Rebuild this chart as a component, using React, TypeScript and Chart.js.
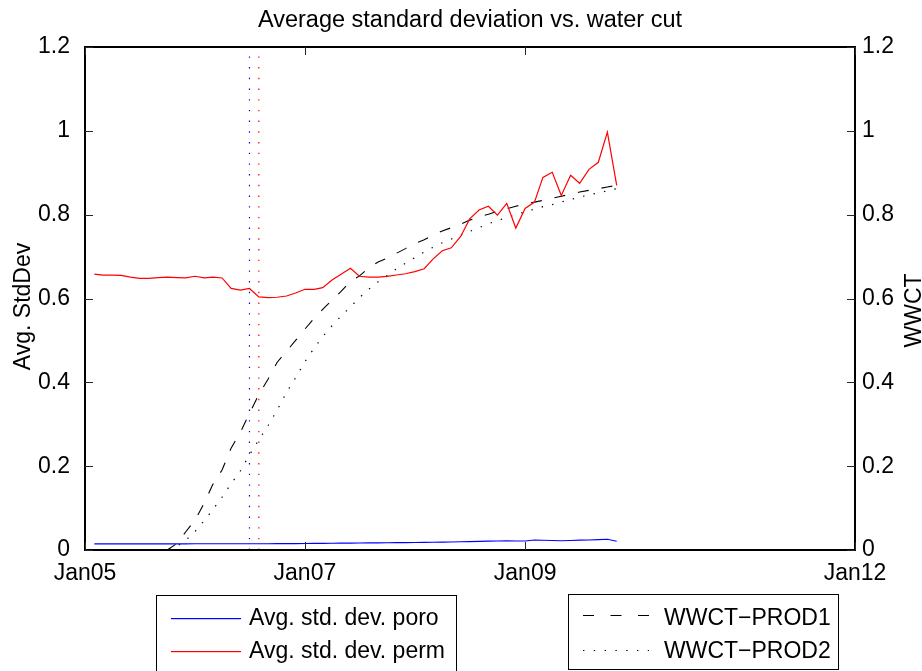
import React, { useEffect, useRef } from 'react';
import { Chart, registerables } from 'chart.js';

Chart.register(...registerables);

// ---- data (monthly report steps) ----
const months = [
  '2005-02', '2005-03', '2005-04', '2005-05', '2005-06', '2005-07', '2005-08', '2005-09', '2005-10', '2005-11', '2005-12',
  '2006-01', '2006-02', '2006-03', '2006-04', '2006-05', '2006-06', '2006-07', '2006-08', '2006-09', '2006-10', '2006-11', '2006-12',
  '2007-01', '2007-02', '2007-03', '2007-04', '2007-05', '2007-06', '2007-07', '2007-08', '2007-09', '2007-10', '2007-11', '2007-12',
  '2008-01', '2008-02', '2008-03', '2008-04', '2008-05', '2008-06', '2008-07', '2008-08', '2008-09', '2008-10', '2008-11', '2008-12',
  '2009-01', '2009-02', '2009-03', '2009-04', '2009-05', '2009-06', '2009-07', '2009-08', '2009-09', '2009-10', '2009-11',
];

const poro = [
  0.0145, 0.0145, 0.0145, 0.0146, 0.0146, 0.0146, 0.0146, 0.0147, 0.0147, 0.0147, 0.0147,
  0.0148, 0.0148, 0.0149, 0.0149, 0.0149, 0.0148, 0.0148, 0.0149, 0.015, 0.0151, 0.0152, 0.0153,
  0.0155, 0.0157, 0.0159, 0.0161, 0.0163, 0.0165, 0.0167, 0.0169, 0.0171, 0.0173, 0.0175, 0.0177,
  0.018, 0.0183, 0.0186, 0.0189, 0.0192, 0.0196, 0.02, 0.0205, 0.0212, 0.0216, 0.0218, 0.0213,
  0.0215, 0.0238, 0.0232, 0.0225, 0.0222, 0.0228, 0.0236, 0.024, 0.0248, 0.0255, 0.0207,
];

const perm = [
  0.658, 0.656, 0.656, 0.655, 0.651, 0.648, 0.648, 0.65, 0.651, 0.65, 0.649,
  0.653, 0.649, 0.651, 0.649, 0.624, 0.62, 0.624, 0.604, 0.602, 0.603, 0.606, 0.613,
  0.622, 0.622, 0.626, 0.644, 0.658, 0.672, 0.653, 0.651, 0.651, 0.653, 0.656, 0.659,
  0.664, 0.671, 0.694, 0.714, 0.721, 0.748, 0.79, 0.811, 0.82, 0.799, 0.827, 0.768,
  0.815, 0.83, 0.889, 0.901, 0.846, 0.894, 0.875, 0.908, 0.925, 0.997, 0.87,
];

const wwctProd1 = [
  0, 0, 0, 0, 0, 0, 0, 0, 0, 0.015, 0.043,
  0.071, 0.112, 0.156, 0.191, 0.243, 0.281, 0.326, 0.371, 0.408, 0.448, 0.474, 0.5,
  0.527, 0.553, 0.574, 0.596, 0.617, 0.64, 0.654, 0.673, 0.687, 0.696, 0.708, 0.719,
  0.731, 0.74, 0.751, 0.761, 0.769, 0.777, 0.787, 0.795, 0.801, 0.808, 0.814, 0.82,
  0.826, 0.83, 0.834, 0.839, 0.844, 0.849, 0.854, 0.858, 0.862, 0.866, 0.87,
];

const wwctProd2 = [
  0, 0, 0, 0, 0, 0, 0, 0, 0, 0.008, 0.023,
  0.044, 0.07, 0.096, 0.126, 0.158, 0.189, 0.227, 0.263, 0.297, 0.334, 0.376, 0.411,
  0.449, 0.482, 0.509, 0.535, 0.558, 0.58, 0.602, 0.622, 0.64, 0.655, 0.671, 0.684,
  0.698, 0.711, 0.722, 0.733, 0.742, 0.751, 0.76, 0.769, 0.778, 0.786, 0.793, 0.8,
  0.807, 0.813, 0.819, 0.824, 0.83, 0.836, 0.842, 0.847, 0.852, 0.857, 0.862,
];

const markerBlueDate = '2006-07';
const markerRedDate = '2006-08';

const xRange = ['2005-01', '2012-01'];
const xTickDates = ['2005-01', '2007-01', '2009-01', '2012-01'];
const xTickLabels = ['Jan05', 'Jan07', 'Jan09', 'Jan12'];
const yTicks = [0, 0.2, 0.4, 0.6, 0.8, 1, 1.2];
const yRange = [0, 1.2];

const titleText = 'Average standard deviation vs. water cut';
const leftTitle = 'Avg. StdDev';
const rightTitle = 'WWCT';
const legend1 = ['Avg. std. dev. poro', 'Avg. std. dev. perm'];
const legend2 = ['WWCT\u2212PROD1', 'WWCT\u2212PROD2'];

const FONT = "'Liberation Sans', Arial, Helvetica, sans-serif";
const FS = 23;
const DASH = [11, 13];
const DOT = [1.4, 9.3];

const toTime = (m: string) => {
  const [y, mo] = m.split('-').map(Number);
  return Date.UTC(y, mo - 1, 1);
};

const series = (vals: number[]) => months.map((m, i) => ({ x: toTime(m), y: vals[i] }));
const vline = (m: string) => [
  { x: toTime(m), y: yRange[0] },
  { x: toTime(m), y: yRange[1] },
];

const decorPlugin = {
  id: 'decor',
  afterDatasetsDraw(chart: any) {
    const { ctx, chartArea: a, scales } = chart;
    ctx.save();
    ctx.strokeStyle = '#000';
    ctx.lineWidth = 2;
    ctx.setLineDash([]);
    ctx.strokeRect(a.left, a.top, a.right - a.left, a.bottom - a.top);
    ctx.lineWidth = 1;
    ctx.strokeStyle = '#262626';
    const tl = 8;
    ctx.beginPath();
    for (const v of yTicks) {
      const y = Math.round(scales.y.getPixelForValue(v)) + 0.5;
      ctx.moveTo(a.left, y);
      ctx.lineTo(a.left + tl, y);
      const y1 = Math.round(scales.y1.getPixelForValue(v)) + 0.5;
      ctx.moveTo(a.right, y1);
      ctx.lineTo(a.right - tl, y1);
    }
    for (const d of xTickDates) {
      const x = Math.round(scales.x.getPixelForValue(toTime(d))) + 0.5;
      ctx.moveTo(x, a.bottom);
      ctx.lineTo(x, a.bottom - tl);
      ctx.moveTo(x, a.top);
      ctx.lineTo(x, a.top + tl);
    }
    ctx.stroke();
    ctx.restore();
  },
  afterDraw(chart: any) {
    const { ctx, chartArea: a } = chart;
    ctx.save();
    ctx.fillStyle = '#000';
    ctx.font = `23.5px ${FONT}`;
    ctx.textAlign = 'center';
    ctx.textBaseline = 'alphabetic';
    ctx.fillText(titleText, (a.left + a.right) / 2, 27);
    ctx.font = `${FS}px ${FONT}`;
    const midY = (a.top + a.bottom) / 2;
    ctx.save();
    ctx.translate(30, midY + 8);
    ctx.rotate(-Math.PI / 2);
    ctx.fillText(leftTitle, 0, 0);
    ctx.restore();
    ctx.save();
    ctx.translate(921, midY + 12);
    ctx.rotate(-Math.PI / 2);
    ctx.fillText(rightTitle, 0, 0);
    ctx.restore();

    // legend boxes
    ctx.lineWidth = 1;
    ctx.strokeStyle = '#000';
    ctx.setLineDash([]);
    ctx.strokeRect(156.5, 595.5, 300, 90);
    ctx.strokeRect(568.5, 594.5, 270, 75);

    ctx.textAlign = 'left';
    const rowY = [618, 651];
    const baseY = [625, 658];
    const cols1 = ['#0000ff', '#ff0000'];
    legend1.forEach((t, i) => {
      ctx.fillStyle = cols1[i];
      ctx.fillRect(171, rowY[i], 70, 1.2);
      ctx.fillStyle = '#000';
      ctx.fillText(t, 249, baseY[i]);
    });
    const dashes2 = [[11, 16.5], [1.4, 9.4]];
    const rowY2 = [615, 650];
    legend2.forEach((t, i) => {
      ctx.strokeStyle = '#000';
      ctx.lineWidth = 1.1;
      ctx.setLineDash(dashes2[i]);
      ctx.beginPath();
      ctx.moveTo(583, rowY2[i] + 0.5);
      ctx.lineTo(649, rowY2[i] + 0.5);
      ctx.stroke();
      ctx.setLineDash([]);
      ctx.fillStyle = '#000';
      ctx.fillText(t, 664, baseY[i]);
    });
    ctx.restore();
  },
};

export default function App() {
  const ref = useRef<HTMLCanvasElement | null>(null);

  useEffect(() => {
    if (!ref.current) return;
    const chart = new Chart(ref.current, {
      type: 'line',
      data: {
        datasets: [
          { label: legend1[0], data: series(poro), borderColor: '#0000ff', borderWidth: 1.1, pointRadius: 0, yAxisID: 'y' },
          { label: legend1[1], data: series(perm), borderColor: '#ff0000', borderWidth: 1.2, pointRadius: 0, yAxisID: 'y' },
          { label: 'marker-blue', data: vline(markerBlueDate), borderColor: '#0000ff', borderWidth: 1.2, borderDash: DOT, pointRadius: 0, yAxisID: 'y' },
          { label: 'marker-red', data: vline(markerRedDate), borderColor: '#ff0000', borderWidth: 1.2, borderDash: DOT, pointRadius: 0, yAxisID: 'y' },
          { label: legend2[0], data: series(wwctProd1), borderColor: '#000000', borderWidth: 1.1, borderDash: DASH, pointRadius: 0, yAxisID: 'y1' },
          { label: legend2[1], data: series(wwctProd2), borderColor: '#000000', borderWidth: 1.2, borderDash: DOT, pointRadius: 0, yAxisID: 'y1' },
        ],
      },
      options: {
        responsive: false,
        animation: false,
        events: [],
        layout: { padding: { top: 47, left: 0, right: 0, bottom: 0 } },
        plugins: { legend: { display: false }, title: { display: false }, tooltip: { enabled: false } },
        scales: {
          x: {
            type: 'linear',
            min: toTime(xRange[0]),
            max: toTime(xRange[1]),
            grid: { display: false, drawTicks: false },
            border: { display: false },
            afterBuildTicks: (s: any) => {
              s.ticks = xTickDates.map((d) => ({ value: toTime(d) }));
            },
            afterFit: (s: any) => {
              s.height = 121;
            },
            ticks: {
              autoSkip: false,
              maxRotation: 0,
              padding: 10,
              color: '#000',
              font: { family: FONT, size: FS },
              callback: (_v: any, i: number) => xTickLabels[i],
            },
          },
          y: {
            position: 'left',
            min: yRange[0],
            max: yRange[1],
            grid: { display: false, drawTicks: false },
            border: { display: false },
            afterBuildTicks: (s: any) => {
              s.ticks = yTicks.map((v) => ({ value: v }));
            },
            afterFit: (s: any) => {
              s.width = 85;
            },
            ticks: {
              padding: 15,
              color: '#000',
              font: { family: FONT, size: FS },
              callback: (v: any) => String(Number(Number(v).toFixed(1))),
            },
          },
          y1: {
            position: 'right',
            min: yRange[0],
            max: yRange[1],
            grid: { display: false, drawTicks: false },
            border: { display: false },
            afterBuildTicks: (s: any) => {
              s.ticks = yTicks.map((v) => ({ value: v }));
            },
            afterFit: (s: any) => {
              s.width = 67;
            },
            ticks: {
              padding: 7,
              color: '#000',
              font: { family: FONT, size: FS },
              callback: (v: any) => String(Number(Number(v).toFixed(1))),
            },
          },
        },
      },
      plugins: [decorPlugin],
    } as any);
    return () => chart.destroy();
  }, []);

  return (
    <div style={{ position: 'absolute', left: 0, top: 0, width: 922, height: 671, background: '#fff' }}>
      <canvas ref={ref} width={922} height={671} style={{ display: 'block' }} />
    </div>
  );
}
